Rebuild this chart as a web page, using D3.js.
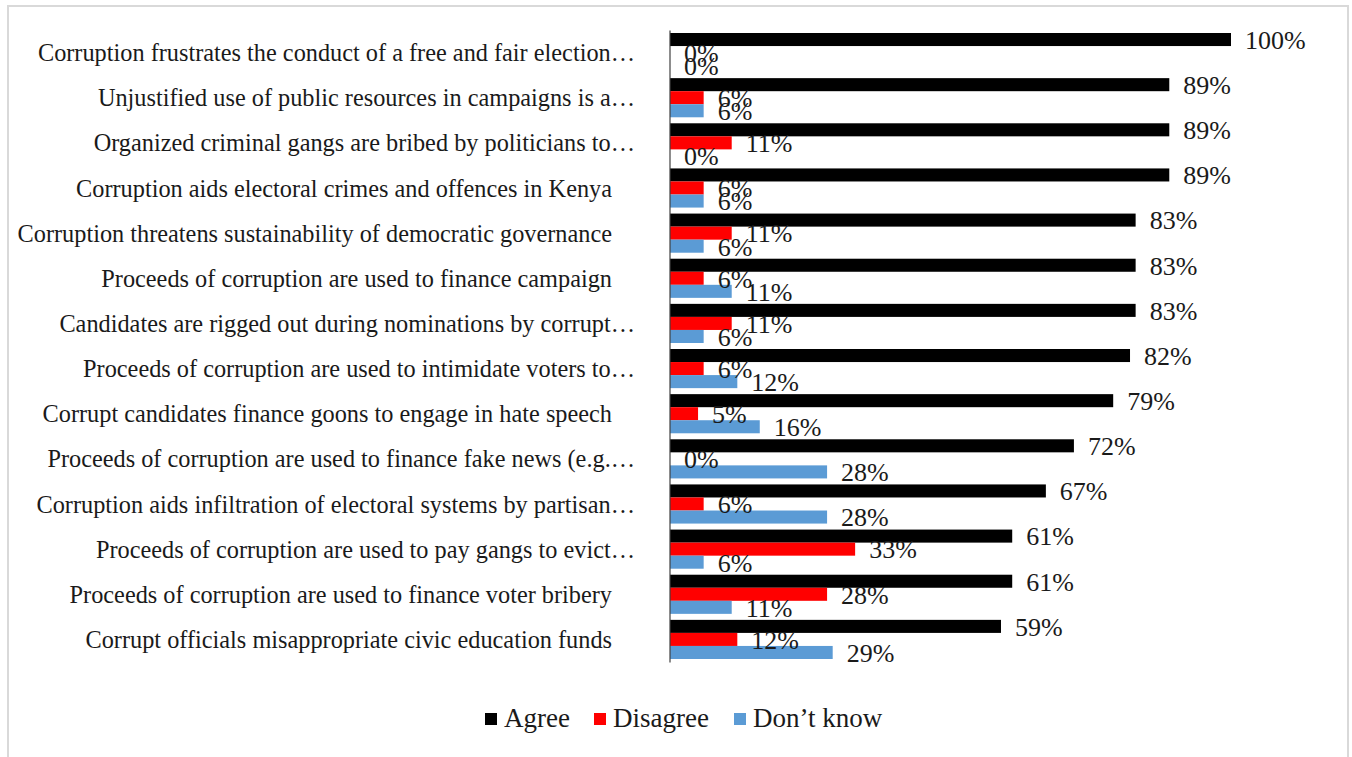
<!DOCTYPE html>
<html>
<head>
<meta charset="utf-8">
<script src="https://cdn.jsdelivr.net/npm/d3@7/dist/d3.min.js"></script>
<style>
  html, body { margin: 0; padding: 0; background: #fff; }
  svg { display: block; }
</style>
</head>
<body>
<svg id="chart" width="1352" height="757"></svg>
<script>
const categories = [
  "Corruption frustrates the conduct of a free and fair election…",
  "Unjustified use of public resources in campaigns is a…",
  "Organized criminal gangs are bribed by politicians to…",
  "Corruption aids electoral crimes and offences in Kenya",
  "Corruption threatens sustainability of democratic governance",
  "Proceeds of corruption are used to finance campaign",
  "Candidates are rigged out during nominations by corrupt…",
  "Proceeds of corruption are used to intimidate voters to…",
  "Corrupt candidates finance goons to engage in hate speech",
  "Proceeds of corruption are used to finance fake news (e.g.…",
  "Corruption aids infiltration of electoral systems by partisan…",
  "Proceeds of corruption are used to pay gangs to evict…",
  "Proceeds of corruption are used to finance voter bribery",
  "Corrupt officials misappropriate civic education funds"
];
const agree     = [100, 89, 89, 89, 83, 83, 83, 82, 79, 72, 67, 61, 61, 59];
const disagree  = [0, 6, 11, 6, 11, 6, 11, 6, 5, 0, 6, 33, 28, 12];
const dontKnow  = [0, 6, 0, 6, 6, 11, 6, 12, 16, 28, 28, 6, 11, 29];
const seriesNames = ["Agree", "Disagree", "Don\u2019t know"];
const seriesColors = ["#000000", "#ff0000", "#5b9bd5"];
const seriesValues = [agree, disagree, dontKnow];

const svg = d3.select("#chart");
const font = "'Liberation Serif', 'Times New Roman', serif";

// chart border
svg.append("rect")
  .attr("x", 8).attr("y", 6).attr("width", 1340).attr("height", 780)
  .attr("fill", "#fff").attr("stroke", "#d9d9d9").attr("stroke-width", 2);

const x = d3.scaleLinear().domain([0, 100]).range([670, 1231]);
const y = d3.scaleBand().domain(categories).range([30, 662])
  .paddingInner(0.133).paddingOuter(0.0665);
const ySub = d3.scaleBand().domain(seriesNames).range([0, y.bandwidth()]);

const rows = categories.map((c, i) => ({
  cat: c,
  vals: seriesNames.map((s, k) => ({ s, k, v: seriesValues[k][i] }))
}));

const g = svg.append("g");
const row = g.selectAll("g.row").data(rows).join("g")
  .attr("class", "row")
  .attr("transform", d => `translate(0,${y(d.cat)})`);

row.selectAll("rect").data(d => d.vals).join("rect")
  .attr("x", x(0))
  .attr("y", d => ySub(d.s))
  .attr("width", d => x(d.v) - x(0))
  .attr("height", ySub.bandwidth())
  .attr("fill", d => seriesColors[d.k]);

row.selectAll("text.val").data(d => d.vals).join("text")
  .attr("class", "val")
  .attr("x", d => x(d.v) + 14)
  .attr("y", d => ySub(d.s) + ySub.bandwidth() / 2)
  .attr("dy", "0.36em")
  .attr("font-family", font)
  .attr("font-size", 26)
  .attr("fill", "#1a1a1a")
  .text(d => d.v + "%");

// category labels
g.selectAll("text.cat").data(categories).join("text")
  .attr("class", "cat")
  .attr("x", d => d.endsWith("…") ? 635 : 612)
  .attr("y", d => y(d) + y.bandwidth() / 2)
  .attr("dy", "0.35em")
  .attr("text-anchor", "end")
  .attr("font-family", font)
  .attr("font-size", 24.3)
  .attr("fill", "#1a1a1a")
  .text(d => d);

// axis line
const axis = d3.axisLeft(y).tickSize(0).tickFormat("");
svg.append("g").attr("transform", `translate(${x(0) - 0.5},0)`).call(axis)
  .select(".domain").attr("stroke", "#404040").attr("stroke-width", 1.2);

// legend
const legendX = [485, 594, 734];
const lg = svg.append("g");
seriesNames.forEach((s, k) => {
  lg.append("rect").attr("x", legendX[k]).attr("y", 713).attr("width", 12).attr("height", 12)
    .attr("fill", seriesColors[k]);
  lg.append("text").attr("x", legendX[k] + 19).attr("y", 727)
    .attr("font-family", font).attr("font-size", 27).attr("fill", "#1a1a1a").text(s);
});
</script>
</body>
</html>
